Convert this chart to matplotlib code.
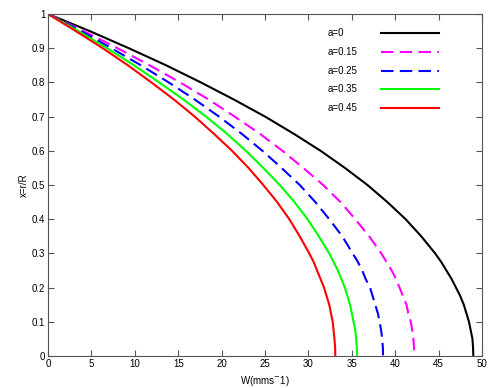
import numpy as np
import matplotlib
matplotlib.use('Agg')
import matplotlib.pyplot as plt

plt.rcParams['font.family'] = ['Liberation Sans', 'DejaVu Sans']

# x = r/R levels where the curves were read
x_levels = [1.0, 0.95, 0.9, 0.85, 0.8, 0.75, 0.7, 0.65, 0.6, 0.55, 0.5,
            0.45, 0.4, 0.35, 0.3, 0.275, 0.25, 0.225, 0.2, 0.175, 0.15,
            0.125, 0.1, 0.075, 0.05, 0.025, 0.0]

# W values (mm/s) for each a
w_a0 = [0, 4.8, 9.3, 13.6, 17.6, 21.4, 25.0, 28.3, 31.4, 34.2, 36.8,
        39.1, 41.2, 43.0, 44.6, 45.3, 45.9, 46.5, 47.0, 47.5, 47.9,
        48.2, 48.5, 48.7, 48.9, 48.97, 49.0]
w_a015 = [0, 4.1, 8.0, 11.7, 15.2, 18.5, 21.5, 24.4, 27.0, 29.4, 31.7,
          33.7, 35.4, 37.0, 38.4, 39.0, 39.6, 40.1, 40.5, 40.9, 41.3,
          41.5, 41.8, 41.96, 42.1, 42.17, 42.2]
w_a025 = [0, 3.8, 7.3, 10.7, 13.9, 16.9, 19.7, 22.3, 24.7, 26.9, 29.0,
          30.8, 32.4, 33.9, 35.1, 35.7, 36.2, 36.6, 37.1, 37.4, 37.7,
          38.0, 38.2, 38.38, 38.5, 38.58, 38.6]
w_a035 = [0, 3.5, 6.8, 9.9, 12.8, 15.6, 18.2, 20.6, 22.8, 24.8, 26.7,
          28.4, 29.9, 31.2, 32.4, 32.9, 33.4, 33.8, 34.2, 34.5, 34.8,
          35.0, 35.2, 35.4, 35.5, 35.58, 35.6]
w_a045 = [0, 3.2, 6.3, 9.2, 11.9, 14.5, 16.9, 19.1, 21.2, 23.1, 24.8,
          26.4, 27.8, 29.0, 30.1, 30.6, 31.0, 31.4, 31.8, 32.1, 32.4,
          32.6, 32.8, 32.9, 33.0, 33.08, 33.1]

labels = ['a=0', 'a=0.15', 'a=0.25', 'a=0.35', 'a=0.45']
colors = ['black', '#ff00ff', '#0000ff', '#00ff00', '#ff0000']
dashed = [False, True, True, False, False]

fig = plt.figure(figsize=(5, 3.88), dpi=100)
ax = fig.add_axes([0.096, 0.0825, 0.868, 0.8815])

series = [w_a0, w_a015, w_a025, w_a035, w_a045]
for i, w in enumerate(series):
    ls = (0, (6, 3)) if dashed[i] else '-'
    ax.plot(w, x_levels, color=colors[i], lw=1.5, linestyle=ls)

ax.set_xlim(0, 50)
ax.set_ylim(0, 1)
ax.set_xticks(range(0, 51, 5))
ax.set_yticks(np.arange(0, 1.01, 0.1))
ax.set_yticklabels(['0', '0.1', '0.2', '0.3', '0.4', '0.5', '0.6', '0.7', '0.8', '0.9', '1'])
ax.tick_params(direction='in', top=True, right=True, length=4, width=0.8,
               labelsize=7, color='#555555', pad=2)
for s in ax.spines.values():
    s.set_color('#555555')
    s.set_linewidth(0.8)

ax.set_xlabel('W(mms$^{-}$1)', fontsize=7, labelpad=4)
ax.set_ylabel('x=r/R', fontsize=7, labelpad=2)

# legend drawn by hand: text on the left, line sample on the right
for i in range(len(labels)):
    ly = 0.943 - i * 0.0545
    ls = (0, (6, 3)) if dashed[i] else '-'
    ax.text(0.645, ly, labels[i], transform=ax.transAxes, fontsize=7,
            ha='left', va='center')
    ax.plot([0.767, 0.901], [ly, ly], transform=ax.transAxes,
            color=colors[i], lw=1.5, linestyle=ls)

plt.savefig('out.png', dpi=100)
